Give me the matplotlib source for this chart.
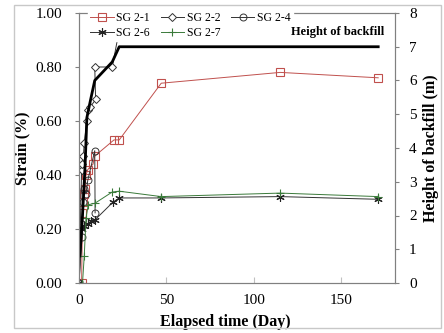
import matplotlib
matplotlib.use("Agg")
import matplotlib.pyplot as plt
from matplotlib.patches import Rectangle

plt.rcParams['font.family'] = ['Liberation Serif', 'DejaVu Serif']

# SG 2-1
d21 = [1.5, 2, 2.5, 3, 3.5, 4, 5, 8, 9, 20, 23, 47, 115, 171]
s21 = [0.0, 0.26, 0.30, 0.33, 0.35, 0.40, 0.42, 0.44, 0.47, 0.53, 0.53, 0.74, 0.78, 0.76]
# SG 2-2
d22 = [0, 1.5, 2, 2.5, 3, 4.5, 5, 6.3, 9.5, 9, 19, 22.5]
s22 = [0.0, 0.42, 0.44, 0.47, 0.52, 0.60, 0.64, 0.65, 0.68, 0.80, 0.80, 0.92]
# SG 2-4
d24 = [0, 1.5, 2, 2.5, 3, 4, 5, 9, 9.2]
s24 = [0.0, 0.17, 0.22, 0.30, 0.35, 0.33, 0.38, 0.49, 0.26]
# SG 2-6
d26 = [0, 2, 3, 5, 7, 9, 19.5, 23, 47, 115, 171]
s26 = [0.0, 0.20, 0.21, 0.22, 0.23, 0.233, 0.30, 0.315, 0.315, 0.32, 0.31]
# SG 2-7
d27 = [2, 3, 4, 5.3, 9, 19, 23, 47, 115, 171]
s27 = [0.0, 0.10, 0.24, 0.29, 0.295, 0.337, 0.34, 0.32, 0.333, 0.32]
# Height of backfill
dh = [0.5, 2, 3.5, 4.5, 6.5, 9, 19, 23, 47, 115, 171]
hh = [0.8, 2.0, 3.5, 4.9, 5.4, 6.0, 6.55, 7.0, 7.0, 7.0, 7.0]

fig = plt.figure(figsize=(4.44, 3.33), dpi=100)
fig.patches.append(Rectangle((14/444, 5/333), 427/444, 323/333, transform=fig.transFigure,
                             fill=False, edgecolor='#c8c8c8', lw=1))
ax = fig.add_axes([79/444, 50/333, 316/444, 270/333])
ax2 = ax.twinx()

gray = '#808080'
red = '#c0504d'
green = '#3a7a3a'
h1, = ax.plot(d21, s21, color=red, lw=0.7, marker='s', ms=6, mfc='none', mec=red, mew=0.8, label='SG 2-1')
h2, = ax.plot(d22, s22, color='#333333', lw=0.7, marker='D', ms=4.5, mfc='white', mec='#333333', mew=0.7, label='SG 2-2')
h4, = ax.plot(d24, s24, color='#333333', lw=0.7, marker='o', ms=5, mfc='none', mec='#333333', mew=0.7, label='SG 2-4')
h6, = ax.plot(d26, s26, color='#333333', lw=0.7, marker=(6, 2, 0), ms=6, mec='#222222', mew=0.8, label='SG 2-6')
h7, = ax.plot(d27, s27, color=green, lw=0.7, marker='+', ms=6, mec=green, mew=0.8, label='SG 2-7')

ax2.plot(dh, hh, color='black', lw=2.0)
ax2.text(148, 7.45, 'Height of backfill', fontsize=9, fontweight='bold', ha='center', va='center', zorder=10)

ax.set_xlim(0, 180.6)
ax.set_ylim(0, 1.0)
ax2.set_ylim(0, 8)
ax.set_xticks([0, 50, 100, 150])
ax.set_yticks([0, 0.2, 0.4, 0.6, 0.8, 1.0])
ax.set_yticklabels(['0.00', '0.20', '0.40', '0.60', '0.80', '1.00'])
ax2.set_yticks(range(0, 9))

for a in (ax, ax2):
    for sp in a.spines.values():
        sp.set_color(gray)
        sp.set_linewidth(0.8)
ax.tick_params(axis='x', direction='in', length=4, color='#c0c0c0', labelsize=11, pad=8)
ax.tick_params(axis='y', direction='out', length=3, color=gray, labelsize=11, pad=9)
ax2.tick_params(axis='y', direction='out', length=3, color=gray, labelsize=11, pad=7)

ax.set_xlabel('Elapsed time (Day)', fontsize=11.5, fontweight='bold', labelpad=5)
ax.xaxis.set_label_coords(0.462, -0.115)
ax.xaxis.label.set_va('top')
ax.set_ylabel('Strain (%)', fontsize=11.5, fontweight='bold', labelpad=4)
ax2.set_ylabel('Height of backfill (m)', fontsize=11.5, fontweight='bold', labelpad=5)

leg = ax2.legend([h1, h6, h2, h7, h4], ['SG 2-1', 'SG 2-6', 'SG 2-2', 'SG 2-7', 'SG 2-4'],
                 ncol=3, loc='upper left', bbox_to_anchor=(0.01, 1.035), fontsize=8.5,
                 frameon=True, fancybox=False, framealpha=1, edgecolor='white',
                 handlelength=2.0, handletextpad=0.2, columnspacing=0.9,
                 labelspacing=0.25, borderpad=0.2)
leg.set_zorder(5)

fig.savefig('out.png', dpi=100)
